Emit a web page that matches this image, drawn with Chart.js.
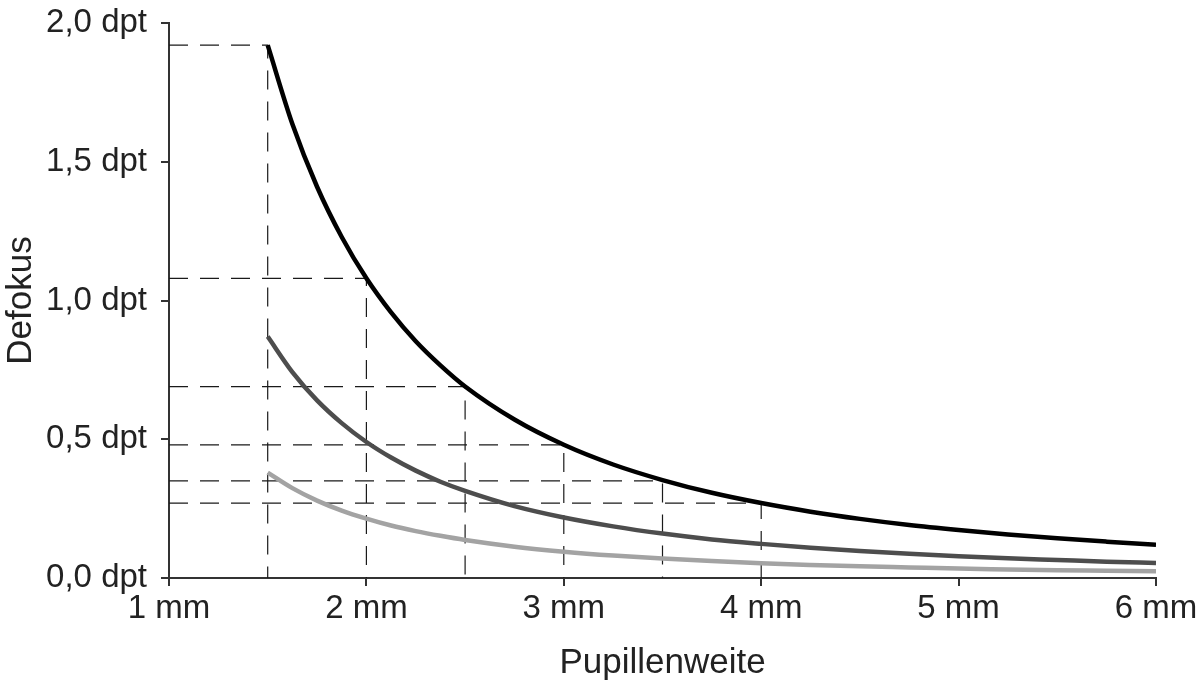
<!DOCTYPE html>
<html>
<head>
<meta charset="utf-8">
<script src="https://cdn.jsdelivr.net/npm/chart.js@4/dist/chart.umd.min.js"></script>
<style>
  html, body { margin: 0; padding: 0; background: #fff; }
  #wrap { width: 1202px; height: 687px; }
</style>
</head>
<body>
<div id="wrap"><canvas id="defokusCanvas"></canvas></div>
<script>
// Pupillenweite in mm
var pupil = [1.5, 1.625, 1.75, 1.875, 2, 2.125, 2.25, 2.375, 2.5, 2.75, 3, 3.25, 3.5, 3.75, 4, 4.25, 4.5, 4.75, 5, 5.25, 5.5, 5.75, 6];
// Defokus in dpt
var curveBlack = [1.92, 1.636, 1.41, 1.229, 1.08, 0.957, 0.853, 0.766, 0.69, 0.571, 0.48, 0.409, 0.353, 0.307, 0.27, 0.239, 0.213, 0.191, 0.173, 0.157, 0.143, 0.131, 0.12];
var curveDark  = [0.87, 0.742, 0.64, 0.558, 0.49, 0.434, 0.387, 0.347, 0.314, 0.259, 0.218, 0.186, 0.16, 0.139, 0.123, 0.109, 0.097, 0.087, 0.078, 0.071, 0.065, 0.059, 0.054];
var curveLight = [0.38, 0.324, 0.279, 0.243, 0.214, 0.189, 0.169, 0.152, 0.137, 0.113, 0.095, 0.081, 0.07, 0.061, 0.053, 0.047, 0.042, 0.038, 0.034, 0.031, 0.028, 0.026, 0.024];

// Hilfslinien (gestrichelt) an der schwarzen Kurve
var markX = [1.5, 2, 2.5, 3, 3.5, 4];
var markY = [1.92, 1.08, 0.69, 0.48, 0.35, 0.27];

var xTickLabels = ['1 mm', '2 mm', '3 mm', '4 mm', '5 mm', '6 mm'];
var yTickLabels = ['0,0 dpt', '0,5 dpt', '1,0 dpt', '1,5 dpt', '2,0 dpt'];

function toPoints(ys) {
    return pupil.map(function(x, i) { return { x: x, y: ys[i] }; });
}

function curve(ys, color) {
    return {
        data: toPoints(ys),
        borderColor: color,
        borderWidth: 4.5,
        pointRadius: 0,
        fill: false,
        cubicInterpolationMode: 'monotone',
        order: 0
    };
}

var datasets = [
    curve(curveBlack, '#000000'),
    curve(curveDark, '#4d4d4d'),
    curve(curveLight, '#a3a3a3')
];

markX.forEach(function(x, i) {
    datasets.push({
        data: [{ x: 1, y: markY[i] }, { x: x, y: markY[i] }, { x: x, y: 0 }],
        borderColor: '#1a1a1a',
        borderWidth: 1.2,
        borderDash: [19, 12],
        pointRadius: 0,
        tension: 0,
        fill: false,
        order: 1
    });
});

var axisColor = '#333333';
var fontFamily = '"Liberation Sans", Arial, sans-serif';

new Chart(document.getElementById('defokusCanvas').getContext('2d'), {
    type: 'line',
    data: { datasets: datasets },
    options: {
        responsive: true,
        maintainAspectRatio: false,
        animation: false,
        layout: { padding: { top: 23, right: 46, left: 0, bottom: 0 } },
        plugins: {
            legend: { display: false },
            tooltip: { enabled: false }
        },
        scales: {
            x: {
                type: 'linear',
                min: 1,
                max: 6,
                afterFit: function(axis) { axis.height = 109; },
                ticks: {
                    stepSize: 1,
                    color: '#222',
                    padding: 3,
                    font: { family: fontFamily, size: 33 },
                    maxRotation: 0,
                    callback: function(value) {
                        var i = Math.round(value - 1);
                        return xTickLabels[i];
                    }
                },
                grid: { drawOnChartArea: false, drawTicks: true, tickLength: 8, color: axisColor, lineWidth: 2 },
                border: { display: true, color: axisColor, width: 2 },
                title: {
                    display: true,
                    text: 'Pupillenweite',
                    color: '#222',
                    font: { family: fontFamily, size: 35 },
                    padding: { top: 0, bottom: 3 }
                }
            },
            y: {
                min: 0,
                max: 2,
                afterFit: function(axis) { axis.width = 169; },
                ticks: {
                    stepSize: 0.5,
                    color: '#222',
                    padding: 14,
                    font: { family: fontFamily, size: 33, lineHeight: 0.5 },
                    callback: function(value) {
                        var i = Math.round(value / 0.5);
                        return yTickLabels[i];
                    }
                },
                grid: { drawOnChartArea: false, drawTicks: true, tickLength: 8, color: axisColor, lineWidth: 2 },
                border: { display: true, color: axisColor, width: 2 },
                title: {
                    display: true,
                    text: 'Defokus',
                    color: '#222',
                    font: { family: fontFamily, size: 35 },
                    padding: { top: 0, bottom: 0 }
                }
            }
        }
    }
});
</script>
</body>
</html>
